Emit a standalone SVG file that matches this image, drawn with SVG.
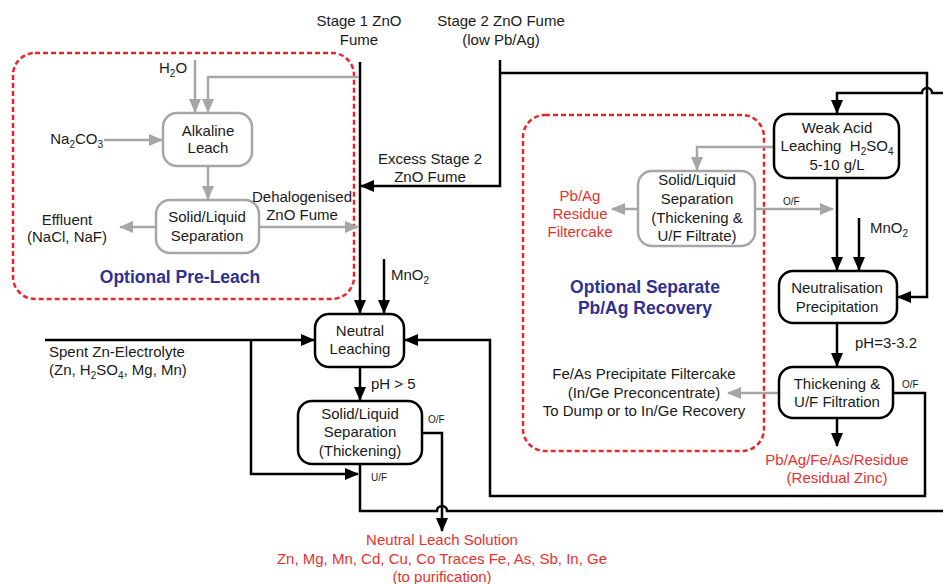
<svg xmlns="http://www.w3.org/2000/svg" width="943" height="584" viewBox="0 0 943 584">
<defs>
<marker id="ab" markerUnits="userSpaceOnUse" markerWidth="14" markerHeight="12" refX="13" refY="6" orient="auto" viewBox="0 0 14 12"><path d="M0,0 L14,6 L0,12 z" fill="#000"/></marker>
<marker id="ag" markerUnits="userSpaceOnUse" markerWidth="14" markerHeight="12" refX="13" refY="6" orient="auto" viewBox="0 0 14 12"><path d="M0,0 L14,6 L0,12 z" fill="#a6a6a6"/></marker>
</defs>
<style>
text{font-family:"Liberation Sans",Arial,sans-serif;font-size:15px;fill:#1a1a1a}
.c{text-anchor:middle}
.e{text-anchor:end}
.s{font-size:10px}
.r{fill:#e8312f}
.b{fill:#2e3192;font-weight:bold;font-size:17.5px}
.box{fill:#fff;stroke:#000;stroke-width:2.5}
.gbox{fill:#fff;stroke:#a6a6a6;stroke-width:2.5}
.k{fill:none;stroke:#000;stroke-width:2.5}
.g{fill:none;stroke:#a6a6a6;stroke-width:2.5}
.d{fill:none;stroke:#e8262a;stroke-width:2.5;stroke-dasharray:5 3}
</style>
<rect width="943" height="584" fill="#fff"/>

<g id="groups">
<rect class="d" x="13" y="53" width="341" height="246" rx="22"/>
<rect class="d" x="523" y="115" width="241" height="336" rx="22"/>
<text class="b c" x="180" y="283">Optional Pre-Leach</text>
<text class="b c" x="645" y="293">Optional Separate</text>
<text class="b c" x="645" y="314">Pb/Ag Recovery</text>
</g>

<g id="connectors">
<path class="k" d="M360,62 V313" marker-end="url(#ab)"/>
<path class="k" d="M384,259 V313" marker-end="url(#ab)"/>
<path class="k" d="M500,60 V186 H361" marker-end="url(#ab)"/>
<path class="k" d="M500,73 H927 V297 H898" marker-end="url(#ab)"/>
<path class="k" d="M943,93 H932 a5,5 0 0 0 -10,0 H837 V113" marker-end="url(#ab)"/>
<path class="g" d="M195,60 V112" marker-end="url(#ag)"/>
<path class="g" d="M359,77 H208 V112" marker-end="url(#ag)"/>
<path class="g" d="M104,140 H162" marker-end="url(#ag)"/>
<path class="g" d="M208,166 V199" marker-end="url(#ag)"/>
<path class="g" d="M156,227 H120" marker-end="url(#ag)"/>
<path class="g" d="M259,227 H358" marker-end="url(#ag)"/>
<path class="k" d="M45,340 H314" marker-end="url(#ab)"/>
<path class="k" d="M251,340 V474 H358" marker-end="url(#ab)"/>
<path class="k" d="M360,367 V400" marker-end="url(#ab)"/>
<path class="k" d="M360,464 V511 H437 a5,5 0 0 1 10,0 H943"/>
<path class="k" d="M422,433 H442 V531" marker-end="url(#ab)"/>
<path class="k" d="M893,393 H925 V496 H490 V340 H405" marker-end="url(#ab)"/>
<path class="k" d="M837,178 V270" marker-end="url(#ab)"/>
<path class="k" d="M859,218 V270" marker-end="url(#ab)"/>
<path class="k" d="M837,323 V366" marker-end="url(#ab)"/>
<path class="k" d="M837,418 V446" marker-end="url(#ab)"/>
<path class="g" d="M774,147 H697 V170" marker-end="url(#ag)"/>
<path class="g" d="M755,209 H833" marker-end="url(#ag)"/>
<path class="g" d="M638,209 H612" marker-end="url(#ag)"/>
<path class="g" d="M779,393 H728" marker-end="url(#ag)"/>
</g>

<g id="alkaline-leach">
<rect class="gbox" x="163" y="113" width="89" height="53" rx="14"/>
<text class="c" x="208" y="136">Alkaline</text>
<text class="c" x="208" y="153">Leach</text>
</g>
<g id="sl-sep-pre">
<rect class="gbox" x="156" y="200" width="103" height="53" rx="14"/>
<text class="c" x="207" y="222">Solid/Liquid</text>
<text class="c" x="207" y="241">Separation</text>
</g>
<g id="neutral-leaching">
<rect class="box" x="315" y="314" width="89" height="53" rx="14"/>
<text class="c" x="360" y="336">Neutral</text>
<text class="c" x="360" y="354">Leaching</text>
</g>
<g id="sl-sep-thick">
<rect class="box" x="298" y="401" width="124" height="63" rx="14"/>
<text class="c" x="360" y="419">Solid/Liquid</text>
<text class="c" x="360" y="437">Separation</text>
<text class="c" x="360" y="456">(Thickening)</text>
</g>
<g id="weak-acid">
<rect class="box" x="774" y="114" width="125" height="64" rx="14"/>
<text class="c" x="837" y="133">Weak Acid</text>
<text class="c" x="837" y="151" xml:space="preserve">Leaching  H<tspan font-size="10" dy="4">2</tspan><tspan dy="-4">SO</tspan><tspan font-size="10" dy="4">4</tspan></text>
<text class="c" x="837" y="170">5-10 g/L</text>
</g>
<g id="sl-sep-pbag">
<rect class="gbox" x="638" y="171" width="117" height="75" rx="14"/>
<text class="c" x="697" y="185">Solid/Liquid</text>
<text class="c" x="697" y="204">Separation</text>
<text class="c" x="697" y="223">(Thickening &amp;</text>
<text class="c" x="697" y="241">U/F Filtrate)</text>
</g>
<g id="neutralisation">
<rect class="box" x="779" y="271" width="118" height="52" rx="14"/>
<text class="c" x="837" y="293">Neutralisation</text>
<text class="c" x="837" y="312">Precipitation</text>
</g>
<g id="thickening">
<rect class="box" x="779" y="367" width="114" height="51" rx="14"/>
<text class="c" x="837" y="389">Thickening &amp;</text>
<text class="c" x="837" y="407">U/F Filtration</text>
</g>

<g id="labels">
<text class="c" x="359" y="26">Stage 1 ZnO</text>
<text class="c" x="359" y="45">Fume</text>
<text class="c" x="501" y="26">Stage 2 ZnO Fume</text>
<text class="c" x="501" y="45">(low Pb/Ag)</text>
<text class="c" x="430" y="164">Excess Stage 2</text>
<text class="c" x="430" y="182">ZnO Fume</text>
<text x="159" y="73">H<tspan font-size="10" dy="4">2</tspan><tspan dy="-4">O</tspan></text>
<text class="e" x="103" y="144">Na<tspan font-size="10" dy="4">2</tspan><tspan dy="-4">CO</tspan><tspan font-size="10" dy="4">3</tspan></text>
<text class="c" x="67" y="225">Effluent</text>
<text class="c" x="67" y="242">(NaCl, NaF)</text>
<text class="c" x="302" y="202">Dehalogenised</text>
<text class="c" x="302" y="220">ZnO Fume</text>
<text x="391" y="280">MnO<tspan font-size="10" dy="4">2</tspan></text>
<text x="49" y="357">Spent Zn-Electrolyte</text>
<text x="49" y="375">(Zn, H<tspan font-size="10" dy="4">2</tspan><tspan dy="-4">SO</tspan><tspan font-size="10" dy="4">4</tspan><tspan dy="-4">, Mg, Mn)</tspan></text>
<text x="371" y="389">pH &gt; 5</text>
<text class="s" x="428" y="423">O/F</text>
<text class="s" x="371" y="481">U/F</text>
<text class="c r" x="442" y="545">Neutral Leach Solution</text>
<text class="c r" x="442" y="564">Zn, Mg, Mn, Cd, Cu, Co Traces Fe, As, Sb, In, Ge</text>
<text class="c r" x="442" y="582">(to purification)</text>
<text class="c r" x="580" y="201">Pb/Ag</text>
<text class="c r" x="580" y="219">Residue</text>
<text class="c r" x="580" y="237">Filtercake</text>
<text class="s" x="783" y="205">O/F</text>
<text x="870" y="233">MnO<tspan font-size="10" dy="4">2</tspan></text>
<text x="855" y="348">pH=3-3.2</text>
<text class="s" x="902" y="388">O/F</text>
<text class="c" x="644" y="379">Fe/As Precipitate Filtercake</text>
<text class="c" x="644" y="398">(In/Ge Preconcentrate)</text>
<text class="c" x="644" y="416">To Dump or to In/Ge Recovery</text>
<text class="c r" x="837" y="465">Pb/Ag/Fe/As/Residue</text>
<text class="c r" x="837" y="483">(Residual Zinc)</text>
</g>
</svg>
